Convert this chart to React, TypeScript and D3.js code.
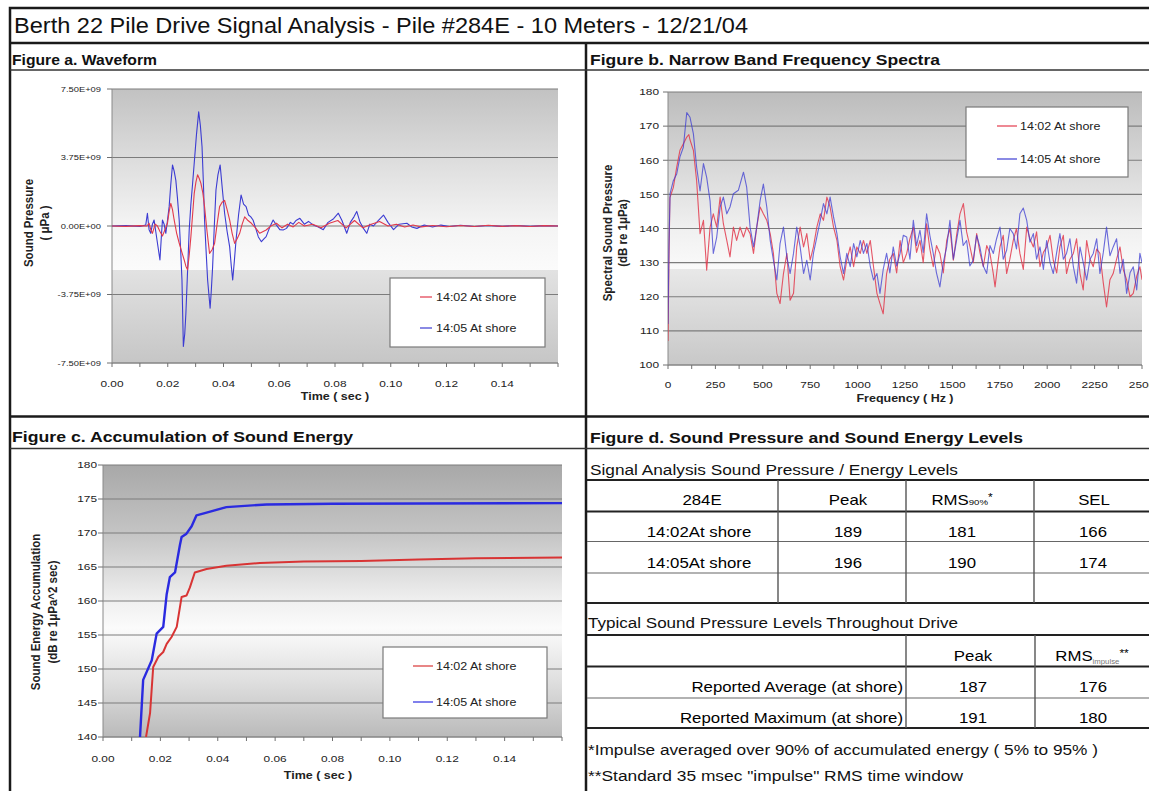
import React from "react";
import * as d3 from "d3";

const FONT = "'Liberation Sans', Arial, Helvetica, sans-serif";

// ================= DATA =================
const pageTitle = "Berth 22 Pile Drive Signal Analysis - Pile #284E - 10 Meters - 12/21/04";
const figTitles = [
  "Figure a. Waveform",
  "Figure b. Narrow Band Frequency Spectra",
  "Figure c. Accumulation of Sound Energy",
  "Figure d. Sound Pressure and Sound Energy Levels",
];
const seriesNames = ["14:02 At shore", "14:05 At shore"];

// Figure a: waveform, [time (s), pressure (x1e9 µPa)]
const wave1405: [number, number][] = [
  [0, 0], [0.005, 0.02], [0.01, -0.02], [0.0121, 0.05], [0.0127, 0.7], [0.0133, -0.2], [0.0139, -0.4],
  [0.0145, 0.1], [0.0151, 0.33], [0.0157, -0.3], [0.0163, -0.93], [0.0172, -1.86], [0.0177, -0.6],
  [0.0181, 0.33], [0.0187, 0.1], [0.0193, -0.4], [0.0199, 0.3], [0.0205, 1.06], [0.0211, 2.3],
  [0.0217, 3.34], [0.0223, 3.0], [0.0229, 2.5], [0.0235, 1.5], [0.0241, 0.33], [0.0246, -1.2],
  [0.0251, -2.96], [0.0256, -6.6], [0.0261, -5.9], [0.0265, -4.8], [0.0271, -2.5], [0.0277, -0.2],
  [0.0283, 1.2], [0.0289, 2.3], [0.0295, 3.45], [0.0303, 5.0], [0.0311, 6.25], [0.0317, 5.5],
  [0.0323, 4.34], [0.0328, 2.3], [0.0332, 0.33], [0.0338, -1.5], [0.0343, -2.96], [0.0352, -4.5],
  [0.0356, -3.6], [0.0361, -2.23], [0.0367, 0.0], [0.0373, 1.97], [0.038, 2.8], [0.0388, 3.34],
  [0.0396, 2.0], [0.0404, 0.7], [0.0413, -0.3], [0.0422, -1.13], [0.0428, -2.2], [0.0433, -2.96],
  [0.0439, -1.9], [0.0445, -0.77], [0.0454, 0.6], [0.0463, 1.7], [0.0472, 1.2], [0.0481, 1.06],
  [0.049, 0.6], [0.0498, 0.5], [0.0506, 0.33], [0.0515, -0.1], [0.0525, -0.6], [0.0536, -0.86],
  [0.0545, -0.7], [0.0553, -0.58], [0.0565, -0.1], [0.0578, 0.33], [0.059, 0.05], [0.0602, -0.2],
  [0.0614, -0.22], [0.0626, -0.13], [0.064, 0.2], [0.065, 0.1], [0.066, 0.3], [0.0674, 0.42],
  [0.069, 0.1], [0.0705, 0.25], [0.0722, 0.05], [0.074, -0.05], [0.0758, -0.2], [0.0775, 0.2],
  [0.0795, 0.4], [0.0812, 0.7], [0.0825, 0.3], [0.0842, -0.4], [0.0855, 0.2], [0.0868, 0.5],
  [0.0878, 0.8], [0.089, 0.2], [0.0905, -0.2], [0.0914, -0.4], [0.0925, 0.1], [0.0938, 0.0],
  [0.0955, 0.3], [0.0974, 0.6], [0.099, 0.2], [0.101, -0.2], [0.103, 0.1], [0.1058, 0.15],
  [0.1075, -0.05], [0.1094, -0.13], [0.112, 0.05], [0.115, -0.05], [0.118, 0.05], [0.121, -0.03],
  [0.125, 0.04], [0.13, -0.03], [0.135, 0.03], [0.14, -0.02], [0.145, 0.03], [0.15, -0.02],
  [0.155, 0.02], [0.16, 0],
];
const wave1402: [number, number][] = [
  [0, 0], [0.005, -0.02], [0.01, 0.02], [0.0125, 0.0], [0.0133, 0.15], [0.0139, -0.2], [0.0145, -0.4],
  [0.0155, 0.1], [0.0163, 0.0], [0.0172, -0.3], [0.0181, -0.55], [0.019, -0.2], [0.0199, 0.15],
  [0.0205, 0.8], [0.0211, 1.24], [0.0217, 0.9], [0.0223, 0.33], [0.0232, -0.4], [0.0241, -0.93],
  [0.025, -1.4], [0.0259, -1.86], [0.0265, -2.2], [0.0271, -2.4], [0.0277, -1.6], [0.0283, -0.58],
  [0.0289, 0.6], [0.0295, 1.79], [0.0301, 2.4], [0.0307, 2.8], [0.0313, 2.6], [0.0319, 2.33],
  [0.0326, 1.8], [0.0332, 1.06], [0.0341, -0.3], [0.035, -1.5], [0.0359, -1.3], [0.0368, -0.95],
  [0.0377, 0.1], [0.0386, 1.06], [0.0395, 1.3], [0.0404, 1.4], [0.0413, 0.9], [0.0422, 0.33],
  [0.0431, -0.4], [0.044, -0.95], [0.0449, -0.7], [0.0458, -0.4], [0.0467, 0.1], [0.0476, 0.5],
  [0.0488, 0.3], [0.05, 0.15], [0.0515, -0.1], [0.053, -0.4], [0.0553, -0.22], [0.057, 0.0],
  [0.059, 0.15], [0.061, -0.1], [0.063, 0.1], [0.065, -0.05], [0.067, 0.2], [0.069, 0.0],
  [0.072, 0.1], [0.075, -0.1], [0.078, 0.15], [0.081, 0.3], [0.084, -0.1], [0.087, 0.3],
  [0.09, -0.1], [0.093, 0.1], [0.096, 0.25], [0.099, 0.0], [0.102, 0.1], [0.105, -0.05],
  [0.108, 0.05], [0.111, -0.05], [0.115, 0.03], [0.12, -0.04], [0.125, 0.03], [0.13, -0.03],
  [0.135, 0.04], [0.14, -0.02], [0.145, 0.02], [0.15, -0.03], [0.155, 0.02], [0.16, 0],
];
const waveYTicks = [-7.5, -3.75, 0, 3.75, 7.5];
const waveYLabels = ["-7.50E+09", "-3.75E+09", "0.00E+00", "3.75E+09", "7.50E+09"];
const timeTicks = [0, 0.02, 0.04, 0.06, 0.08, 0.1, 0.12, 0.14];

// Figure b: spectra, [frequency (Hz), dB re 1µPa]
const spec1405: [number, number][] = [
  [0, 112], [5, 135], [11, 150.2], [28, 154], [46, 156], [63, 161], [81, 163.8], [99, 174], [116, 172.6],
  [134, 167.7], [151, 158], [169, 151], [187, 159], [204, 155], [222, 148], [239, 132.7], [257, 137.5],
  [275, 146.3], [292, 149.2], [310, 144.3], [327, 146.3], [345, 150.2], [371, 151.2], [398, 156.5],
  [415, 152.1], [433, 140.4], [451, 134.6], [468, 140.4], [486, 148.2], [503, 153], [521, 146.3],
  [539, 136.5], [556, 130.7], [574, 124.9], [591, 135.6], [609, 140.4], [627, 131.7], [644, 126.8],
  [662, 132.7], [679, 140.4], [697, 134.6], [715, 126.8], [732, 130.7], [750, 124.9], [767, 132.7],
  [785, 137.5], [803, 142.4], [820, 147.3], [838, 144.3], [855, 149.2], [873, 143.4], [891, 138.5],
  [908, 131.7], [926, 126.8], [943, 132.7], [961, 128.8], [979, 135.6], [996, 131.7], [1014, 136.5],
  [1031, 132.7], [1049, 135.6], [1067, 128.8], [1084, 124.9], [1102, 126.8], [1118, 121], [1135, 128],
  [1153, 132.7], [1170, 127], [1188, 134.6], [1206, 129], [1224, 132.7], [1241, 138], [1259, 137.5],
  [1276, 131], [1294, 142.4], [1311, 135], [1329, 139.5], [1346, 133], [1364, 144.3], [1381, 138],
  [1399, 132.7], [1416, 127], [1434, 122.9], [1452, 130], [1470, 134.6], [1487, 142.4], [1505, 131],
  [1522, 136.5], [1540, 142.4], [1557, 135], [1575, 136.5], [1592, 129], [1610, 130.7], [1628, 138],
  [1645, 134.6], [1663, 129], [1681, 126.8], [1698, 135], [1716, 132.7], [1733, 137], [1751, 140.4],
  [1768, 131], [1786, 133.6], [1803, 140], [1821, 138.5], [1838, 134], [1856, 144.3], [1874, 146],
  [1892, 142.4], [1909, 136], [1927, 138.5], [1944, 131], [1962, 134.6], [1980, 128], [1997, 136.5],
  [2015, 130], [2032, 126.8], [2050, 133], [2067, 138.5], [2085, 131], [2102, 132.7], [2120, 137],
  [2138, 128.8], [2155, 124], [2173, 134.6], [2190, 130], [2208, 124.9], [2226, 131], [2243, 132.7],
  [2261, 137], [2278, 126.8], [2296, 133], [2313, 140.4], [2331, 132], [2348, 134.6], [2366, 137],
  [2384, 126.8], [2401, 131], [2419, 121], [2437, 127], [2454, 128.8], [2472, 122], [2489, 132.7],
  [2500, 130],
];
const spec1402: [number, number][] = [
  [0, 107], [5, 130], [10, 149], [28, 152], [46, 158], [63, 162.9], [81, 164.8], [99, 166.8], [110, 167.5],
  [116, 166], [134, 162.9], [151, 154], [169, 138.5], [187, 142.4], [204, 127.8], [222, 140.4],
  [239, 144.3], [257, 140.4], [275, 149.2], [292, 141.4], [310, 136.5], [327, 131.7], [345, 140.4],
  [362, 136.5], [380, 140.4], [398, 137.5], [415, 140.4], [433, 138.5], [451, 132.7], [468, 140.4],
  [486, 146.3], [503, 144.3], [521, 142.4], [539, 138.5], [556, 132.7], [574, 121], [591, 118],
  [609, 126.8], [627, 132.7], [644, 119], [662, 121], [679, 134.6], [697, 140.4], [715, 134.6],
  [732, 138.5], [750, 130.7], [767, 134.6], [785, 140.4], [803, 144.3], [820, 142.4], [838, 149.2],
  [855, 146.3], [873, 140.4], [891, 136.5], [908, 128.8], [926, 124.9], [943, 130.7], [961, 134.6],
  [979, 128.8], [996, 134.6], [1014, 132.7], [1031, 136.5], [1049, 132.7], [1067, 136.5], [1084, 128.8],
  [1102, 121], [1118, 118], [1135, 115], [1153, 126.8], [1170, 131], [1188, 132.7], [1206, 127],
  [1224, 136.5], [1241, 130], [1259, 132.7], [1276, 137], [1294, 140.4], [1311, 133], [1329, 136.5],
  [1346, 130], [1364, 141.4], [1381, 134], [1399, 128.8], [1416, 135], [1434, 132.7], [1452, 127],
  [1470, 136.5], [1487, 140], [1505, 130.7], [1522, 138], [1540, 144.3], [1558, 147.3], [1575, 139],
  [1593, 134.6], [1610, 130], [1628, 138.5], [1645, 133], [1663, 128.8], [1681, 135], [1698, 132.7],
  [1715, 127], [1725, 122.9], [1740, 130], [1751, 134.6], [1768, 138], [1786, 126.8], [1803, 131],
  [1821, 136.5], [1838, 140], [1856, 132.7], [1874, 128], [1892, 140.4], [1909, 137], [1927, 134.6],
  [1944, 139], [1962, 128.8], [1980, 133], [1997, 134.6], [2015, 138], [2032, 130.7], [2050, 127],
  [2067, 134.6], [2085, 138], [2102, 126.8], [2120, 131], [2138, 132.7], [2155, 137], [2173, 126.8],
  [2190, 122], [2208, 136.5], [2226, 131], [2243, 128.8], [2261, 134], [2278, 132.7], [2296, 124],
  [2313, 117], [2331, 125], [2348, 126.8], [2366, 131], [2384, 134.6], [2401, 128], [2419, 124.9],
  [2437, 120], [2454, 121], [2472, 126], [2489, 128.8], [2500, 125],
];
const specYTicks = [100, 110, 120, 130, 140, 150, 160, 170, 180];
const freqTicks = [0, 250, 500, 750, 1000, 1250, 1500, 1750, 2000, 2250, 2500];

// Figure c: accumulated energy, [time (s), dB re 1µPa^2 sec]
const energy1402: [number, number][] = [
  [0.015, 140], [0.0164, 143.5], [0.0175, 150.3], [0.0193, 151.8], [0.021, 152.5], [0.0222, 153.7],
  [0.0239, 154.7], [0.0257, 156.2], [0.0274, 160.6], [0.0291, 160.8], [0.0303, 162], [0.032, 164.2],
  [0.0361, 164.7], [0.043, 165.2], [0.0547, 165.6], [0.07, 165.8], [0.09, 165.9], [0.11, 166.1],
  [0.13, 166.3], [0.16, 166.4],
];
const energy1405: [number, number][] = [
  [0.0129, 140], [0.014, 148.4], [0.017, 151.3], [0.0187, 155.2], [0.021, 156.2], [0.0222, 161],
  [0.0233, 163.5], [0.0251, 164.2], [0.0268, 168.2], [0.0274, 169.4], [0.0291, 169.9], [0.0309, 171],
  [0.0326, 172.6], [0.0361, 173], [0.043, 173.8], [0.057, 174.2], [0.08, 174.3], [0.16, 174.4],
];
const energyYTicks = [140, 145, 150, 155, 160, 165, 170, 175, 180];

// Figure d: tables
const levelsSubtitle = "Signal Analysis Sound Pressure / Energy Levels";
const levelsHeader = ["284E", "Peak", "RMS", "SEL"];
const levelsRows = [
  ["14:02At shore", "189", "181", "166"],
  ["14:05At shore", "196", "190", "174"],
];
const typicalSubtitle = "Typical Sound Pressure Levels Throughout Drive";
const typicalHeader = ["", "Peak", "RMS"];
const typicalRows = [
  ["Reported Average (at shore)", "187", "176"],
  ["Reported Maximum (at shore)", "191", "180"],
];
const footnotes = [
  "*Impulse averaged over 90% of accumulated energy ( 5% to 95% )",
  "**Standard 35 msec \"impulse\" RMS time window",
];

// ================= HELPERS =================
const RED = "#e23a4c";
const BLUE = "#3c3cd2";

function Txt({ x, y, size, sx = 1, anchor = "start", weight = "normal", fill = "#000", rot = 0, children }: any) {
  const tr = `translate(${x},${y}) scale(${sx},1)` + (rot ? ` rotate(${rot})` : "");
  return (
    <text transform={tr} fontSize={size} textAnchor={anchor} fontWeight={weight} fill={fill} fontFamily={FONT}>
      {children}
    </text>
  );
}

function Chart(p: any) {
  const { id, box, xDomain, yDomain, xTicks, xMinorStep, xFmt, yTicks, yFmt, series, stops, legend } = p;
  const x = d3.scaleLinear().domain(xDomain).range([box.l, box.r]);
  const y = d3.scaleLinear().domain(yDomain).range([box.b, box.t]);
  const line = d3.line<[number, number]>().x((d) => x(d[0])).y((d) => y(d[1]));
  const minor = d3.range(xDomain[0], xDomain[1] + xMinorStep / 2, xMinorStep);
  const SX = 1.25;
  return (
    <g>
      <defs>
        <linearGradient id={`${id}-bg`} x1="0" y1="0" x2="0" y2="1">
          {stops.map(([o, c]: any, i: number) => (
            <stop key={i} offset={o} stopColor={c} />
          ))}
        </linearGradient>
        <clipPath id={`${id}-clip`}>
          <rect x={box.l} y={box.t} width={box.r - box.l} height={box.b - box.t} />
        </clipPath>
      </defs>
      <rect x={box.l} y={box.t} width={box.r - box.l} height={box.b - box.t} fill={`url(#${id}-bg)`} />
      {yTicks.map((t: number) => (
        <line key={"g" + t} x1={box.l} x2={box.r} y1={y(t)} y2={y(t)} stroke="#7c7c7c" strokeWidth={1.2} />
      ))}
      <line x1={box.l} x2={box.l} y1={box.t} y2={box.b} stroke="#8a8a8a" strokeWidth={1} />
      <line x1={box.l} x2={box.r} y1={box.b} y2={box.b} stroke="#8a8a8a" strokeWidth={1} />
      {yTicks.map((t: number) => (
        <line key={"yt" + t} x1={box.l - 5} x2={box.l} y1={y(t)} y2={y(t)} stroke="#707070" />
      ))}
      {minor.map((t: number, i: number) => (
        <line key={"xt" + i} x1={x(t)} x2={x(t)} y1={box.b} y2={box.b + 4} stroke="#707070" />
      ))}
      <g clipPath={`url(#${id}-clip)`}>
        {series.map((s: any, i: number) => (
          <path
            key={i}
            d={line(s.data) || ""}
            fill="none"
            stroke={s.color}
            strokeWidth={s.width}
            strokeOpacity={s.opacity ?? 1}
            strokeLinejoin="round"
          />
        ))}
      </g>
      {yTicks.map((t: number, i: number) => (
        <Txt key={"yl" + t} x={p.yLabelX} y={y(t) + p.yLabelSize * 0.35} size={p.yLabelSize} sx={SX} anchor="end" fill="#222">
          {yFmt(t, i)}
        </Txt>
      ))}
      {xTicks.map((t: number) => (
        <Txt key={"xl" + t} x={x(t)} y={p.xLabelY} size={p.xLabelSize} sx={SX} anchor="middle" fill="#222">
          {xFmt(t)}
        </Txt>
      ))}
      <Txt x={p.xTitleX} y={p.xTitleY} size={10} sx={SX} anchor="middle" weight="bold" fill="#222">
        {p.xTitle}
      </Txt>
      {p.yTitles.map((t: any, i: number) => (
        <Txt key={"yt" + i} x={t.x} y={p.yTitleY} size={p.yTitleSize} sx={1.15} rot={-90} anchor="middle" weight="bold" fill="#222">
          {t.text}
        </Txt>
      ))}
      <rect x={legend.l} y={legend.t} width={legend.r - legend.l} height={legend.b - legend.t} fill="#fff" stroke="#7a7a7a" strokeWidth={1.2} />
      {seriesNames.map((name, i) => (
        <g key={"lg" + i}>
          <line x1={legend.line[0]} x2={legend.line[1]} y1={legend.rowsY[i]} y2={legend.rowsY[i]} stroke={legend.colors[i]} strokeWidth={1.2} />
          <Txt x={legend.textX} y={legend.rowsY[i] + 3.5} size={10} sx={SX} fill="#222">
            {name}
          </Txt>
        </g>
      ))}
    </g>
  );
}

// ================= APP =================
export default function App() {
  const W = 1149;
  const H = 791;
  const fmt2 = d3.format(".2f");
  const dark = "#1a1a1a";
  const tableSX = 1.2;
  const tSize = 14;

  return (
    <svg width={W} height={H} style={{ position: "absolute", left: 0, top: 0, display: "block" }} fontFamily={FONT}>
      <rect x={0} y={0} width={W} height={H} fill="#fff" />

      {/* Frame */}
      <rect x={10} y={8} width={1160} height={800} fill="none" stroke={dark} strokeWidth={2.5} />
      <line x1={10} x2={W} y1={43} y2={43} stroke={dark} strokeWidth={2.5} />
      <line x1={586} x2={586} y1={43} y2={H} stroke={dark} strokeWidth={2.5} />
      <line x1={10} x2={W} y1={416.5} y2={416.5} stroke={dark} strokeWidth={2.5} />
      <line x1={10} x2={W} y1={70} y2={70} stroke="#333" strokeWidth={1.6} />
      <line x1={10} x2={W} y1={448.5} y2={448.5} stroke="#333" strokeWidth={1.6} />

      <text x={14} y={33} fontSize={22} textLength={734} lengthAdjust="spacingAndGlyphs" fill="#111">
        {pageTitle}
      </text>
      <text x={12} y={65} fontSize={15} fontWeight="bold" textLength={145} lengthAdjust="spacingAndGlyphs" fill="#111">
        {figTitles[0]}
      </text>
      <text x={590} y={65} fontSize={15} fontWeight="bold" textLength={350} lengthAdjust="spacingAndGlyphs" fill="#111">
        {figTitles[1]}
      </text>
      <text x={12} y={442} fontSize={15} fontWeight="bold" textLength={341} lengthAdjust="spacingAndGlyphs" fill="#111">
        {figTitles[2]}
      </text>
      <text x={590} y={443} fontSize={15} fontWeight="bold" textLength={433} lengthAdjust="spacingAndGlyphs" fill="#111">
        {figTitles[3]}
      </text>

      {/* Figure a */}
      <Chart
        id="fa"
        box={{ l: 112, r: 558, t: 89, b: 363 }}
        xDomain={[0, 0.16]}
        yDomain={[-7.5, 7.5]}
        xTicks={timeTicks}
        xMinorStep={0.01}
        xFmt={fmt2}
        yTicks={waveYTicks}
        yFmt={(t: number, i: number) => waveYLabels[i]}
        yLabelX={101}
        yLabelSize={7.5}
        xLabelY={387}
        xLabelSize={9.5}
        xTitle="Time ( sec )"
        xTitleX={335}
        xTitleY={400}
        yTitles={[
          { text: "Sound Pressure", x: 33 },
          { text: "( μPa )", x: 49 },
        ]}
        yTitleY={223}
        yTitleSize={11.5}
        stops={[
          [0, "#c2c2c2"],
          [0.25, "#dcdcdc"],
          [0.5, "#f4f4f4"],
          [0.66, "#fbfbfb"],
          [0.66, "#e2e2e2"],
          [1, "#c6c6c6"],
        ]}
        series={[
          { data: wave1405, color: BLUE, width: 1.1 },
          { data: wave1402, color: RED, width: 1.1 },
        ]}
        legend={{ l: 390, t: 278, r: 545, b: 347, rowsY: [297, 328], line: [420, 432], textX: 436, colors: [RED, BLUE] }}
      />

      {/* Figure b */}
      <Chart
        id="fb"
        box={{ l: 668, r: 1142, t: 92, b: 365 }}
        xDomain={[0, 2500]}
        yDomain={[100, 180]}
        xTicks={freqTicks}
        xMinorStep={125}
        xFmt={(t: number) => String(t)}
        yTicks={specYTicks}
        yFmt={(t: number) => String(t)}
        yLabelX={659}
        yLabelSize={9.5}
        xLabelY={388}
        xLabelSize={9.5}
        xTitle="Frequency ( Hz )"
        xTitleX={905}
        xTitleY={402}
        yTitles={[
          { text: "Spectral Sound Pressure", x: 612 },
          { text: "(dB re 1μPa)", x: 627 },
        ]}
        yTitleY={233}
        yTitleSize={11.5}
        stops={[
          [0, "#bcbcbc"],
          [0.25, "#d6d6d6"],
          [0.5, "#f0f0f0"],
          [0.65, "#fafafa"],
          [0.65, "#e8e8e8"],
          [1, "#c8c8c8"],
        ]}
        series={[
          { data: spec1402, color: RED, width: 1.1, opacity: 0.85 },
          { data: spec1405, color: BLUE, width: 1.1, opacity: 0.75 },
        ]}
        legend={{ l: 966, t: 107, r: 1128, b: 177, rowsY: [126, 159], line: [997, 1017], textX: 1020, colors: [RED, BLUE] }}
      />

      {/* Figure c */}
      <Chart
        id="fc"
        box={{ l: 103, r: 562, t: 465, b: 737 }}
        xDomain={[0, 0.16]}
        yDomain={[140, 180]}
        xTicks={timeTicks}
        xMinorStep={0.01}
        xFmt={fmt2}
        yTicks={energyYTicks}
        yFmt={(t: number) => String(t)}
        yLabelX={97}
        yLabelSize={9.5}
        xLabelY={762}
        xLabelSize={9.5}
        xTitle="Time ( sec )"
        xTitleX={318}
        xTitleY={779}
        yTitles={[
          { text: "Sound Energy Accumulation", x: 40 },
          { text: "(dB re 1μPa^2 sec)", x: 57 },
        ]}
        yTitleY={612}
        yTitleSize={11.5}
        stops={[
          [0, "#a8a8a8"],
          [0.25, "#c4c4c4"],
          [0.5, "#f0f0f0"],
          [0.6, "#fbfbfb"],
          [0.8, "#dedede"],
          [1, "#bababa"],
        ]}
        series={[
          { data: energy1402, color: "#d83434", width: 2 },
          { data: energy1405, color: "#2a2ae0", width: 2.4 },
        ]}
        legend={{ l: 383, t: 647, r: 547, b: 718, rowsY: [666, 702], line: [413, 433], textX: 436, colors: ["#d83434", "#2a2ae0"] }}
      />

      {/* Figure d: tables */}
      <g fill="#111">
        <text x={590} y={475} fontSize={tSize} textLength={368} lengthAdjust="spacingAndGlyphs">
          {levelsSubtitle}
        </text>
        {[480, 511.5, 603].map((yy) => (
          <line key={"tk" + yy} x1={587} x2={W} y1={yy} y2={yy} stroke="#222" strokeWidth={2} />
        ))}
        {[541.5, 573].map((yy) => (
          <line key={"tn" + yy} x1={587} x2={W} y1={yy} y2={yy} stroke="#666" strokeWidth={1.2} />
        ))}
        {[778, 906, 1034].map((xx) => (
          <line key={"tv" + xx} x1={xx} x2={xx} y1={480} y2={603} stroke="#555" strokeWidth={1.4} />
        ))}
        {[702, 848, 962, 1094].map((cx, i) =>
          i === 2 ? (
            <Txt key={"h" + i} x={cx} y={505} size={tSize} sx={tableSX} anchor="middle">
              {levelsHeader[i]}
              <tspan fontSize={8}>90%</tspan>
              <tspan fontSize={10} dy={-4}>*</tspan>
            </Txt>
          ) : (
            <Txt key={"h" + i} x={cx} y={505} size={tSize} sx={tableSX} anchor="middle">
              {levelsHeader[i]}
            </Txt>
          )
        )}
        {levelsRows.map((row, r) =>
          row.map((cell, c) => (
            <Txt key={`r${r}c${c}`} x={[699, 848, 962, 1093][c]} y={[537, 568][r]} size={tSize} sx={tableSX} anchor="middle">
              {cell}
            </Txt>
          ))
        )}

        <text x={588} y={628} fontSize={tSize} textLength={370} lengthAdjust="spacingAndGlyphs">
          {typicalSubtitle}
        </text>
        {[635, 666.5, 728].map((yy) => (
          <line key={"uk" + yy} x1={587} x2={W} y1={yy} y2={yy} stroke="#222" strokeWidth={2} />
        ))}
        <line x1={587} x2={W} y1={698} y2={698} stroke="#666" strokeWidth={1.2} />
        {[906, 1035].map((xx) => (
          <line key={"uv" + xx} x1={xx} x2={xx} y1={635} y2={728} stroke="#555" strokeWidth={1.4} />
        ))}
        <Txt x={973} y={661} size={tSize} sx={tableSX} anchor="middle">
          {typicalHeader[1]}
        </Txt>
        <Txt x={1092} y={661} size={tSize} sx={tableSX} anchor="middle">
          {typicalHeader[2]}
          <tspan fontSize={6.5} dy={3} fill="#777">impulse</tspan>
          <tspan fontSize={10} dy={-7}>**</tspan>
        </Txt>
        {typicalRows.map((row, r) => (
          <g key={"tr" + r}>
            <Txt x={903} y={[692, 723][r]} size={tSize} sx={tableSX} anchor="end">
              {row[0]}
            </Txt>
            <Txt x={973} y={[692, 723][r]} size={tSize} sx={tableSX} anchor="middle">
              {row[1]}
            </Txt>
            <Txt x={1093} y={[692, 723][r]} size={tSize} sx={tableSX} anchor="middle">
              {row[2]}
            </Txt>
          </g>
        ))}
        <text x={588} y={755} fontSize={tSize} textLength={510} lengthAdjust="spacingAndGlyphs">
          {footnotes[0]}
        </text>
        <text x={588} y={781} fontSize={tSize} textLength={375} lengthAdjust="spacingAndGlyphs">
          {footnotes[1]}
        </text>
      </g>
    </svg>
  );
}
